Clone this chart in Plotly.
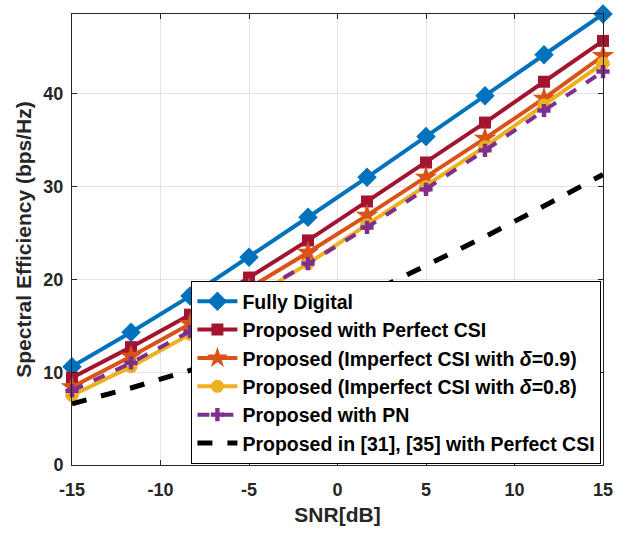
import plotly.graph_objects as go

snr = [-15, -11.667, -8.333, -5, -1.667, 1.667, 5, 8.333, 11.667, 15]
fully_digital = [10.6, 14.3, 18.2, 22.4, 26.7, 31.0, 35.4, 39.8, 44.2, 48.6]
perfect_csi = [9.4, 12.7, 16.2, 20.2, 24.2, 28.4, 32.6, 36.9, 41.3, 45.7]
imperfect_09 = [8.4, 11.7, 15.2, 19.0, 22.9, 26.9, 31.0, 35.2, 39.5, 44.1]
imperfect_08 = [7.5, 10.6, 14.1, 17.8, 21.7, 25.9, 30.0, 34.3, 38.8, 43.3]
with_pn = [8.0, 11.0, 14.4, 18.0, 21.7, 25.6, 29.7, 33.9, 38.2, 42.4]
ref_31_35 = [6.6, 8.3, 10.2, 12.6, 15.3, 18.4, 21.5, 24.6, 27.9, 31.3]

x_tickvals = [-15, -10, -5, 0, 5, 10, 15]
x_ticktext = ["-15", "-10", "-5", "0", "5", "10", "15"]
y_tickvals = [0, 10, 20, 30, 40]

names = [
    "Fully Digital",
    "Proposed with Perfect CSI",
    "Proposed (Imperfect CSI with <i>δ</i>=0.9)",
    "Proposed (Imperfect CSI with <i>δ</i>=0.8)",
    "Proposed with PN",
    "Proposed in [31], [35] with Perfect CSI",
]

FONT = "Liberation Sans, Arial, sans-serif"

fig = go.Figure()
specs = [
    (fully_digital, "#0072BD", "diamond", 15, "solid"),
    (perfect_csi, "#A2142F", "square", 12, "solid"),
    (imperfect_09, "#D95319", "star", 17, "solid"),
    (imperfect_08, "#EDB120", "circle", 13, "solid"),
    (with_pn, "#7E2F8E", "cross", 11, "dash"),
]
for (vals, col, sym, sz, dash), nm in zip(specs, names[:5]):
    fig.add_trace(go.Scatter(
        x=snr, y=vals, name=nm, mode="lines+markers",
        line=dict(color=col, width=4, dash=dash),
        marker=dict(symbol=sym, size=sz, color=col, line=dict(width=0)),
        cliponaxis=False,
    ))
fig.add_trace(go.Scatter(
    x=snr, y=ref_31_35, name=names[5], mode="lines",
    line=dict(color="black", width=5, dash="dash"),
    cliponaxis=False,
))

axis_common = dict(
    showline=True, linecolor="#262626", linewidth=1, mirror="ticks",
    ticks="inside", ticklen=5, tickcolor="#262626",
    showgrid=True, gridcolor="#e3e3e3", gridwidth=1, zeroline=False,
    tickfont=dict(family=FONT, size=18, color="#262626", weight="bold"),
)
fig.update_xaxes(range=[-15, 15], tickvals=x_tickvals, ticktext=x_ticktext,
                 ticklabelstandoff=8,
                 title=dict(text="SNR[dB]", font=dict(family=FONT, size=21, color="#262626", weight="bold"), standoff=8),
                 **axis_common)
fig.update_yaxes(range=[0, 48.6], tickvals=y_tickvals,
                 ticklabelstandoff=4,
                 title=dict(text="Spectral Efficiency (bps/Hz)", font=dict(family=FONT, size=21, color="#262626", weight="bold"), standoff=6),
                 **axis_common)

fig.update_layout(
    width=625, height=534,
    margin=dict(l=72, r=20, t=14, b=64),
    plot_bgcolor="white", paper_bgcolor="white",
    showlegend=True,
    legend=dict(x=0.997, y=0.002, xanchor="right", yanchor="bottom",
                bgcolor="white", bordercolor="black", borderwidth=1,
                font=dict(family=FONT, size=19.5, color="black", weight="bold"),
                tracegroupgap=0, itemwidth=40),
)

fig.write_html("out.html")
